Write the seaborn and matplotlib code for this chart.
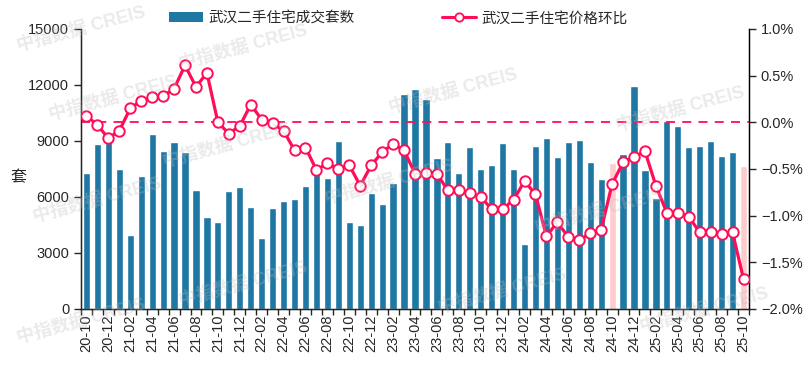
import matplotlib
matplotlib.use("Agg")
import matplotlib.pyplot as plt
import seaborn as sns
import numpy as np
import pandas as pd
from matplotlib.patches import Patch
from matplotlib.lines import Line2D
from matplotlib.ticker import FuncFormatter, FixedLocator

sns.set_style("white")
plt.rcParams['font.family'] = ['Liberation Sans', 'Noto Sans CJK SC', 'DejaVu Sans']
plt.rcParams['axes.unicode_minus'] = True

months = ["20-10", "20-11", "20-12",
          "21-01", "21-02", "21-03", "21-04", "21-05", "21-06", "21-07", "21-08", "21-09", "21-10", "21-11", "21-12",
          "22-01", "22-02", "22-03", "22-04", "22-05", "22-06", "22-07", "22-08", "22-09", "22-10", "22-11", "22-12",
          "23-01", "23-02", "23-03", "23-04", "23-05", "23-06", "23-07", "23-08", "23-09", "23-10", "23-11", "23-12",
          "24-01", "24-02", "24-03", "24-04", "24-05", "24-06", "24-07", "24-08", "24-09", "24-10", "24-11", "24-12",
          "25-01", "25-02", "25-03", "25-04", "25-05", "25-06", "25-07", "25-08", "25-09", "25-10"]

volume = [7300, 8850, 8980, 7500, 3950, 7100, 9380, 8450, 8950, 8400, 6380, 4950, 4650, 6300, 6530,
          5450, 3800, 5400, 5780, 5900, 6600, 7300, 7000, 9000, 4660, 4500, 6200,
          5600, 6750, 11500, 11800, 11250, 8100, 8950, 7300, 8700, 7500, 7700, 8900,
          7500, 3500, 8730, 9150, 8150, 8970, 9050, 7900, 6950, 7800, 8300, 11950,
          7450, 5950, 10070, 9800, 8680, 8730, 9000, 8200, 8400, 7650]

mom = [0.07, -0.03, -0.17, -0.09, 0.15, 0.23, 0.27, 0.28, 0.36, 0.61, 0.38, 0.53, 0.00, -0.12, -0.04,
       0.19, 0.03, -0.01, -0.09, -0.30, -0.27, -0.51, -0.44, -0.50, -0.46, -0.68, -0.46,
       -0.32, -0.23, -0.30, -0.55, -0.54, -0.55, -0.73, -0.73, -0.76, -0.80, -0.93, -0.93,
       -0.83, -0.63, -0.77, -1.22, -1.07, -1.23, -1.26, -1.19, -1.15, -0.66, -0.43, -0.37,
       -0.31, -0.68, -0.97, -0.97, -1.01, -1.18, -1.17, -1.20, -1.18, -1.68]

highlight = ["24-10", "25-10"]

bar_label = "武汉二手住宅成交套数"
line_label = "武汉二手住宅价格环比"

BLUE = "#1f78a4"
PINK = "#ffcccc"
RED = "#ff0d57"

df = pd.DataFrame({"month": months, "volume": volume, "mom": mom})

fig = plt.figure(figsize=(8.1, 3.65), dpi=100)
ax = fig.add_axes([81/810, 1-309/365, (749-81)/810, (309-29)/365])

sns.barplot(data=df, x="month", y="volume", color=BLUE, width=0.66, saturation=1, ax=ax, zorder=2)
for p, m in zip(ax.patches, months):
    if m in highlight:
        p.set_facecolor(PINK)

ax.set_xlim(-0.5, len(months) - 0.5)
ax.set_ylim(0, 15000)
ax.set_yticks([0, 3000, 6000, 9000, 12000, 15000])
ax.tick_params(axis='y', labelsize=10.5, length=5, direction='out', width=1, left=True)
ax.set_ylabel("套", fontsize=11.5, rotation=0, va='center', ha='center')
ax.yaxis.set_label_coords(-0.093, 0.47)
ax.set_xlabel("")
ticks = list(range(0, len(months), 2))
ax.set_xticks(ticks)
ax.set_xticklabels([months[i] for i in ticks], rotation=90, fontsize=10.5)
ax.tick_params(axis='x', which='major', length=0, pad=4)
ax.xaxis.set_minor_locator(FixedLocator(np.arange(-0.5, len(months), 1.0)))
ax.tick_params(axis='x', which='minor', length=4, direction='out', width=1, bottom=True)
for s in ["left", "bottom", "right"]:
    ax.spines[s].set_visible(True)
    ax.spines[s].set_color("black")
    ax.spines[s].set_linewidth(1)
ax.spines["top"].set_visible(False)

ax2 = ax.twinx()
x = np.arange(len(months))
ax2.axhline(0, color=RED, lw=1.3, ls=(0, (5, 4)), zorder=1)
sns.lineplot(x=x, y=mom, ax=ax2, color=RED, lw=2.3, marker='o', markersize=7.5,
             markerfacecolor='white', markeredgecolor=RED, markeredgewidth=1.4, zorder=3)
ax2.set_ylim(-2.0, 1.0)
ax2.set_yticks([-2.0, -1.5, -1.0, -0.5, 0.0, 0.5, 1.0])
ax2.yaxis.set_major_formatter(FuncFormatter(lambda v, p: ("\u2212" if v < -1e-9 else "") + f"{abs(v):.1f}%"))
ax2.tick_params(axis='y', labelsize=10.5, length=5, direction='out', width=1, right=True)
ax2.spines["top"].set_visible(False)
ax2.spines["right"].set_visible(True)
ax2.spines["right"].set_color("black")
ax2.set_xlim(-0.5, len(months) - 0.5)

# watermarks
for (wx, wy) in [(0.10, 0.92), (0.30, 0.87), (0.14, 0.73), (0.56, 0.75), (0.28, 0.60), (0.84, 0.70),
                 (0.12, 0.45), (0.48, 0.50), (0.74, 0.42), (0.30, 0.22), (0.62, 0.20), (0.10, 0.12), (0.87, 0.15)]:
    fig.text(wx, wy, "中指数据 CREIS", fontsize=13, fontweight='bold', color='#bbbbbb', alpha=0.3,
             rotation=15, ha='center', va='center', zorder=0)

handles = [Patch(facecolor=BLUE, edgecolor='none'),
           Line2D([0], [0], color=RED, lw=2.2, marker='o', markersize=6, markerfacecolor='white',
                  markeredgecolor=RED, markeredgewidth=1.3)]
fig.legend(handles, [bar_label, line_label], loc='upper center', bbox_to_anchor=(0.492, 1.005), ncol=2,
           frameon=False, fontsize=10.5, columnspacing=6.0, handlelength=2.3, handletextpad=0.4)

fig.savefig("out.png", dpi=100)
